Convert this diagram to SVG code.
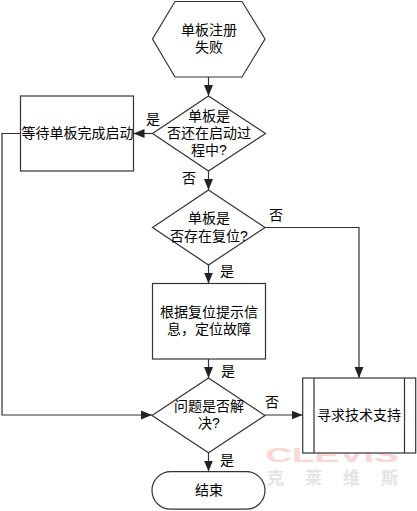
<svg xmlns="http://www.w3.org/2000/svg" width="417" height="511" viewBox="0 0 417 511">
<style>
.s{fill:#fff;stroke:#333;stroke-width:1.2}
.c{fill:none;stroke:#333;stroke-width:1.2;marker-end:url(#a)}
text{font-family:"Liberation Sans","Noto Sans CJK SC",sans-serif;font-size:14px;fill:#000;text-anchor:middle}
.w{font-size:17px;fill:#e4e4e4;text-anchor:start;font-weight:bold}
</style>
<defs>
<marker id="a" markerUnits="userSpaceOnUse" markerWidth="12" markerHeight="10" refX="11" refY="5" orient="auto"><path d="M0 0.500L11 5L0 9.500Z" fill="#222"/></marker>
</defs>
<rect width="417" height="511" fill="#fff"/>
<g id="watermark">
<text x="332" y="462" style="font-size:21px;font-weight:bold;fill:#fbd6d6" textLength="133" lengthAdjust="spacingAndGlyphs">CLEVIS</text>
<text class="w" x="267" y="484">克</text>
<text class="w" x="305" y="484">莱</text>
<text class="w" x="343" y="484">维</text>
<text class="w" x="381" y="484">斯</text>
</g>
<g id="connectors">
<path class="c" d="M208.500 77V96"/>
<path class="c" d="M152.500 133.500H133.500"/>
<path class="c" d="M208.500 171V190"/>
<path class="c" d="M20.500 133.500H2V415H152"/>
<path class="c" d="M265 227.500H359V378"/>
<path class="c" d="M208.500 265V283.500"/>
<path class="c" d="M208.500 359V378"/>
<path class="c" d="M265 415H302.500"/>
<path class="c" d="M208.500 452.500V471.500"/>
</g>
<g id="n1"><path class="s" d="M175 1.500H242L265 39L242 77H175L152.500 39Z"/><text x="209" y="35">单板注册</text><text x="209" y="52">失败</text></g>
<g id="n2"><path class="s" d="M208.500 96L265.500 133.500L208.500 171L152.500 133.500Z"/><text x="209" y="121">单板是</text><text x="209" y="138">否还在启动过</text><text x="209" y="155">程中?</text></g>
<g id="n3"><rect class="s" x="20.500" y="96" width="113" height="75"/><text x="77.500" y="138">等待单板完成启动</text></g>
<g id="n4"><path class="s" d="M208.500 190L265 227.500L208.500 265L152.500 227.500Z"/><text x="209" y="223">单板是</text><text x="209" y="241">否存在复位?</text></g>
<g id="n5"><rect class="s" x="152.500" y="283.500" width="113" height="75.500"/><text x="209" y="317">根据复位提示信</text><text x="209" y="334">息，定位故障</text></g>
<g id="n6"><path class="s" d="M208.500 378L265 415.500L208.500 452.700L152 415.500Z"/><text x="209" y="411">问题是否解</text><text x="209" y="428">决?</text></g>
<g id="n7"><rect class="s" x="302.700" y="378" width="113" height="75"/><path class="s" d="M314 378V453M404.500 378V453"/><text x="359" y="420">寻求技术支持</text></g>
<g id="n8"><rect class="s" x="152" y="471.700" width="113" height="37.500" rx="18.700"/><text x="209" y="495">结束</text></g>
<g id="labels">
<text x="153" y="124">是</text>
<text x="189" y="183">否</text>
<text x="276" y="220">否</text>
<text x="227" y="276">是</text>
<text x="228" y="376">是</text>
<text x="272" y="407">否</text>
<text x="227" y="465">是</text>
</g>
</svg>
